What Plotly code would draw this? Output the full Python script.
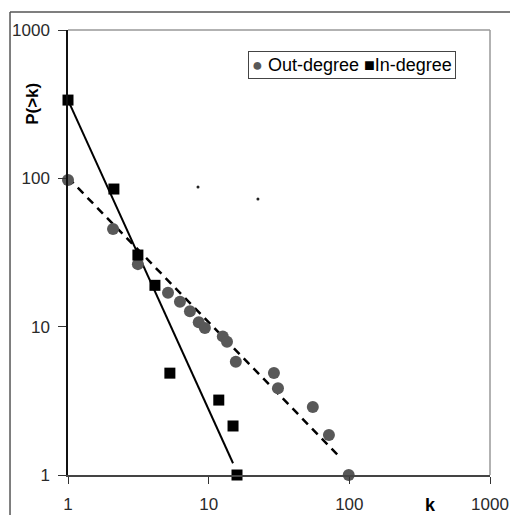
import plotly.graph_objects as go

# Data
out_k = [1.0, 2.09, 3.14, 5.14, 6.25, 7.36, 8.5, 9.4, 12.6, 13.5, 15.6, 29.1, 31.1, 55, 71.6, 99]
out_p = [97.5, 45.5, 26.4, 16.9, 14.7, 12.7, 10.7, 9.8, 8.6, 7.9, 5.8, 4.87, 3.85, 2.87, 1.86, 1.0]

in_k = [1.0, 2.12, 3.14, 4.15, 5.3, 11.8, 14.9, 15.9]
in_p = [337, 84.7, 30.4, 19.0, 4.86, 3.2, 2.14, 1.0]

# Fitted power-law trend lines (end points)
in_fit_k = [1.0, 14.9]
in_fit_p = [337, 1.2]
out_fit_k = [1.0, 83]
out_fit_p = [101, 1.36]

# stray specks in the original picture
speck_k = [8.4, 22.4]
speck_p = [87.4, 72.5]

x_ticks = [1, 10, 100, 1000]
y_ticks = [1, 10, 100, 1000]

FONT = "Liberation Sans, Arial, sans-serif"

fig = go.Figure()
fig.add_trace(go.Scatter(x=in_fit_k, y=in_fit_p, mode="lines",
                         line=dict(color="black", width=2), showlegend=False, hoverinfo="skip"))
fig.add_trace(go.Scatter(x=out_fit_k, y=out_fit_p, mode="lines",
                         line=dict(color="black", width=2.5, dash="8px,6px"), showlegend=False, hoverinfo="skip"))
fig.add_trace(go.Scatter(x=out_k, y=out_p, mode="markers", name="Out-degree",
                         marker=dict(symbol="circle", size=12, color="#585858"),
                         cliponaxis=False, showlegend=False))
fig.add_trace(go.Scatter(x=in_k, y=in_p, mode="markers", name="In-degree",
                         marker=dict(symbol="square", size=11, color="black"),
                         cliponaxis=False, showlegend=False))
fig.add_trace(go.Scatter(x=speck_k, y=speck_p, mode="markers",
                         marker=dict(size=3, color="#222"), showlegend=False, hoverinfo="skip"))

axis_common = dict(type="log", showgrid=False, zeroline=False, showline=True,
                   linewidth=1.5, ticks="outside", tickcolor="#333333",
                   tickwidth=1.2, mirror=False, automargin=False,
                   tickfont=dict(family=FONT, size=17, color="#2a2a2a"))

fig.update_xaxes(range=[0, 3], tickvals=x_ticks, ticktext=[str(v) for v in x_ticks],
                 ticklen=7, ticklabelstandoff=6, linecolor="#444444", **axis_common)
fig.update_yaxes(range=[0, 3], tickvals=y_ticks, ticktext=[str(v) for v in y_ticks],
                 ticklen=8, ticklabelstandoff=5, linecolor="#111111", **axis_common)

shapes = [
    # top and right gray frame of plot area
    dict(type="line", xref="paper", yref="paper", x0=0, y0=1, x1=1, y1=1,
         line=dict(color="#999999", width=1.5)),
    dict(type="line", xref="paper", yref="paper", x0=1, y0=0, x1=1, y1=1,
         line=dict(color="#999999", width=1.5)),
    # outer frame
    dict(type="line", xref="paper", yref="paper", x0=-0.1374, y0=-0.2, x1=-0.1374, y1=1.0404,
         line=dict(color="#555555", width=1.5)),
    dict(type="line", xref="paper", yref="paper", x0=-0.1374, y0=1.0404, x1=1.2, y1=1.0404,
         line=dict(color="#555555", width=1.5)),
]

annotations = [
    dict(text="<b>k</b>", xref="paper", yref="paper", x=0.860, y=-0.0674, showarrow=False,
         xanchor="center", yanchor="middle",
         font=dict(family=FONT, size=18, color="black")),
    dict(text="<b>P(>k)</b>", xref="paper", yref="paper", x=-0.083, y=0.834, showarrow=False,
         xanchor="center", yanchor="middle",
         textangle=-90, font=dict(family=FONT, size=17, color="black")),
    dict(text="<span style='color:#585858'>●</span> Out-degree <span style='color:black'>■</span>In-degree",
         xref="paper", yref="paper", x=0.4265, y=0.9528, xanchor="left", yanchor="top",
         showarrow=False, bordercolor="#444444", borderwidth=1, borderpad=3, bgcolor="white",
         font=dict(family=FONT, size=18, color="black")),
]

fig.update_layout(width=510, height=515, margin=dict(l=68, r=20, t=30, b=40),
                  plot_bgcolor="white", paper_bgcolor="white",
                  shapes=shapes, annotations=annotations, showlegend=False)

fig.write_html("out.html")
